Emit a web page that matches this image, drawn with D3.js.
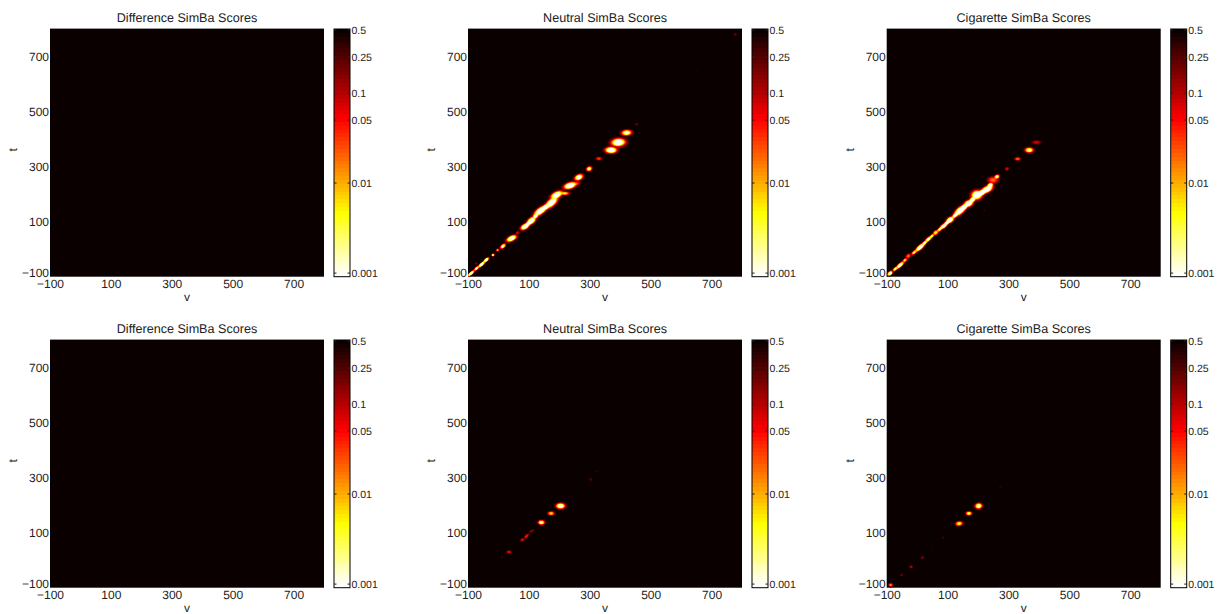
<!DOCTYPE html>
<html><head><meta charset="utf-8">
<script src="https://cdn.jsdelivr.net/npm/d3@7"></script>
<style>html,body{margin:0;padding:0;background:#fff}svg{display:block}
text{font-family:"Liberation Sans",Arial,sans-serif;fill:#222;text-rendering:geometricPrecision}</style></head>
<body><svg id="c" width="1224" height="614"></svg>
<script>
// Values: [v, t, score at blob centre, spread along, spread across, angle]
const differenceTop = [];
const differenceBottom = [];
const neutralTop = [
[-90,-88,.001,14,3.5,45],[-72,-70,.003,10,3.5,45],[-55,-55,.001,14,4,45],[-40,-39,.001,10,4,45],
[-18,-21,.003,4,3.5,45],[-3,-3,.01,4,3.5,45],[15,11,.003,10,5,45],[43,39,.001,17,8,30],[62,60,.06,6,3,45],
[87,82,.001,15,8,35],[97,92,.003,8,5,45],[108,103,.001,17,9,45],[122,120,.002,8,6,45],[138,139,.001,25,10,40],[155,153,.002,10,7,40],[174,169,.001,25,11,45],[191,197,.001,20,10,30],
[218,203,.01,14,5,0],[235,231,.001,20,10,20],[255,238,.05,14,5,10],[264,261,.002,14,9,30],[298,292,.005,9,7,30],
[330,329,.04,9,5,0],[370,360,.001,18,10,0],[394,388,.001,22,13,5],[421,423,.003,16,9,5],[454,454,.2,5,4,0],
[778,780,.2,5,4,0],[652,651,.35,3,3,0],[-73,-52,.1,3,3,0]];
const cigaretteTop = [
[-89,-88,.001,9,5,45],[-72,-72,.004,9,4,45],[-56,-58,.0015,16,5,45],[-40,-40,.008,8,4,45],[-29,-25,.03,9,6,45],[-10,-12,.006,10,4,45],[10,7,.001,20,6,45],[25,23,.003,8,4,45],[37,36,.003,14,5,45],[49,48,.006,8,4,45],
[61,60,.008,10,6,45],[74,72,.004,10,4,45],[87,84,.002,14,6,40],[97,95,.002,8,5,40],[108,106,.001,14,8,40],[124,122,.002,10,5,45],[141,140,.001,24,10,45],[155,153,.001,10,7,40],[169,166,.001,15,10,30],[182,180,.001,10,7,40],
[196,197,.001,17,15,20],[212,205,.001,12,8,30],[229,217,.001,20,10,30],[240,232,.002,10,7,40],[249,251,.03,16,11,0],[262,263,.004,8,6,30],[295,292,.08,6,5,30],
[330,328,.03,9,5,0],[368,360,.004,13,8,0],[392,388,.1,14,6,0],[220,141,.2,3,2,0],[-34,-60,.2,2,3,0]];
const neutralBottom = [
[12,10,.2,3,2,0],[35,30,.06,7,4,0],[79,74,.07,7,4,30],[92,87,.05,9,4,50],[109,106,.15,9,3.5,30],
[141,137,.004,10,7,0],[173,170,.012,10,6,0],[204,197,.002,14,9,0],[233,231,.35,4,3,0],[303,293,.25,5,5,0],[323,323,.35,8,3,0]];
const cigaretteBottom = [
[-87,-90,.02,6,5,0],[-51,-54,.2,6,3,30],[-20,-24,.1,5,3.5,0],[17,9,.15,5,4,30],[46,42,.35,3,3,0],[85,82,.25,3,4,0],
[114,107,.4,3,3,0],[138,133,.008,11,7,10],[170,170,.006,9,6,0],[202,197,.003,11,9,10],[273,266,.3,4,3,0]];
const axisTicks = [-100,100,300,500,700];
const scoreTicks = [0.5,0.25,0.1,0.05,0.01,0.001];
const panelTitles = ["Difference SimBa Scores","Neutral SimBa Scores","Cigarette SimBa Scores"];
const panelData = [differenceTop,neutralTop,cigaretteTop,differenceBottom,neutralBottom,cigaretteBottom];

const lefts=[50,468,886.7], tops=[29,340], W=274, H=247.7, CBX=284, CBW=16;
const svg=d3.select("#c");
const LEVELS=64;
const hot=i=>{const n=i+1;const r=Math.min(1,n/24),g=Math.max(0,Math.min(1,(n-24)/24)),b=Math.max(0,Math.min(1,(n-48)/16));
  return d3.rgb(r*255,g*255,b*255).formatHex();};
const fmt=d=>String(d).replace("-","\u2212");
const STEP=3, NG=Math.round(900/STEP)+1;
const topDepth=0.29, spanDepth=2.75;
const thresholds=d3.range(1,LEVELS).map(i=>topDepth+i/LEVELS*spanDepth);
const defs=svg.append("defs");
defs.append("filter").attr("id","soft").attr("x","-2%").attr("y","-2%").attr("width","104%").attr("height","104%")
  .append("feGaussianBlur").attr("stdDeviation",0.45);

panelData.forEach((blobs,idx)=>{
  const col=idx%3,row=Math.floor(idx/3),L=lefts[col],T=tops[row];
  const g=svg.append("g");
  const x=d3.scaleLinear([-100,800],[L,L+W]);
  const y=d3.scaleLinear([-100,800],[T+H,T]);
  g.append("rect").attr("x",L).attr("y",T).attr("width",W).attr("height",H).attr("fill",hot(0));
  g.append("line").attr("x1",L).attr("x2",L+W).attr("y1",T-.5).attr("y2",T-.5).attr("stroke","#999");
  // score field on a grid, stored as -log10(score); overlapping blobs merge by a soft maximum
  const acc=new Float64Array(NG*NG);
  blobs.forEach(([v,t,p,ra,rb,ang])=>{
    const c=Math.cos(ang*Math.PI/180),s=Math.sin(ang*Math.PI/180),depth=(-Math.log10(p)-topDepth)*1.25,R=Math.max(ra,rb)*2.5;
    for(let j=Math.max(0,Math.floor((t-R+100)/STEP));j<=Math.min(NG-1,Math.ceil((t+R+100)/STEP));j++)
    for(let i=Math.max(0,Math.floor((v-R+100)/STEP));i<=Math.min(NG-1,Math.ceil((v+R+100)/STEP));i++){
      const dv=i*STEP-100-v,dt=j*STEP-100-t,a=(dv*c+dt*s)/ra,b=(-dv*s+dt*c)/rb;
      acc[j*NG+i]+=Math.pow(depth*Math.exp(-Math.pow(a*a+b*b,1.2)),2);
    }
  });
  const field=Float64Array.from(acc,d=>topDepth+Math.sqrt(d));
  const contours=d3.contours().size([NG,NG]).thresholds(thresholds)(field);
  const clip="cp"+idx;
  g.append("clipPath").attr("id",clip).append("rect").attr("x",L).attr("y",T).attr("width",W).attr("height",H);
  const path=d3.geoPath(d3.geoTransform({point(a,b){this.stream.point(x((a-.5)*STEP-100),y((b-.5)*STEP-100));}}));
  g.append("g").attr("clip-path",`url(#${clip})`).append("g").attr("filter","url(#soft)")
    .selectAll("path").data(contours.filter(c=>c.coordinates.length)).join("path")
    .attr("d",path).attr("fill",d=>hot(thresholds.indexOf(d.value)+1));
  // axes
  const ax=g.append("g").attr("transform",`translate(0,${T+H})`).call(d3.axisBottom(x).tickValues(axisTicks).tickSize(0).tickPadding(2.5).tickFormat(fmt));
  const ay=g.append("g").attr("transform",`translate(${L},0)`).call(d3.axisLeft(y).tickValues(axisTicks).tickSize(0).tickPadding(1).tickFormat(fmt));
  [ax,ay].forEach(a=>{a.select(".domain").remove();a.selectAll("text").attr("font-size",12).attr("font-family",null).style("fill","#222");});
  ay.selectAll(".tick").filter(d=>d===-100).select("text").attr("y",-4);
  g.append("text").attr("x",L+W/2).attr("y",T-7).attr("text-anchor","middle").attr("font-size",12.6).text(panelTitles[col]);
  g.append("text").attr("x",L+W/2).attr("y",T+H+24).attr("text-anchor","middle").attr("font-size",12).text("v");
  g.append("text").attr("transform",`translate(${L-33},${T+H/2-3})rotate(-90)`).attr("text-anchor","middle").attr("font-size",12).text("t");
  // colorbar
  const cx=L+CBX;
  const s=d3.scaleLog([Math.pow(10,-topDepth),Math.pow(10,-topDepth-spanDepth)],[T,T+H]);
  const band=d3.scaleBand(d3.range(LEVELS),[T,T+H]);
  g.append("g").attr("shape-rendering","crispEdges").selectAll("rect").data(d3.range(LEVELS)).join("rect").attr("x",cx).attr("width",CBW)
    .attr("y",d=>band(d)).attr("height",band.bandwidth()+1).attr("fill",hot);
  g.append("rect").attr("x",cx).attr("y",T).attr("width",CBW).attr("height",H).attr("fill","none").attr("stroke","#000").attr("stroke-width",1);
  const tk=g.append("g").selectAll("g").data(scoreTicks).join("g");
  tk.append("line").attr("x1",cx).attr("x2",cx+2.5).attr("y1",s).attr("y2",s).attr("stroke","#222");
  tk.append("line").attr("x1",cx+CBW-2.5).attr("x2",cx+CBW).attr("y1",s).attr("y2",s).attr("stroke","#222");
  tk.append("text").attr("x",cx+CBW+1.5).attr("y",s).attr("dy",".36em").attr("font-size",10.5).text(d=>d);
});
</script></body></html>
